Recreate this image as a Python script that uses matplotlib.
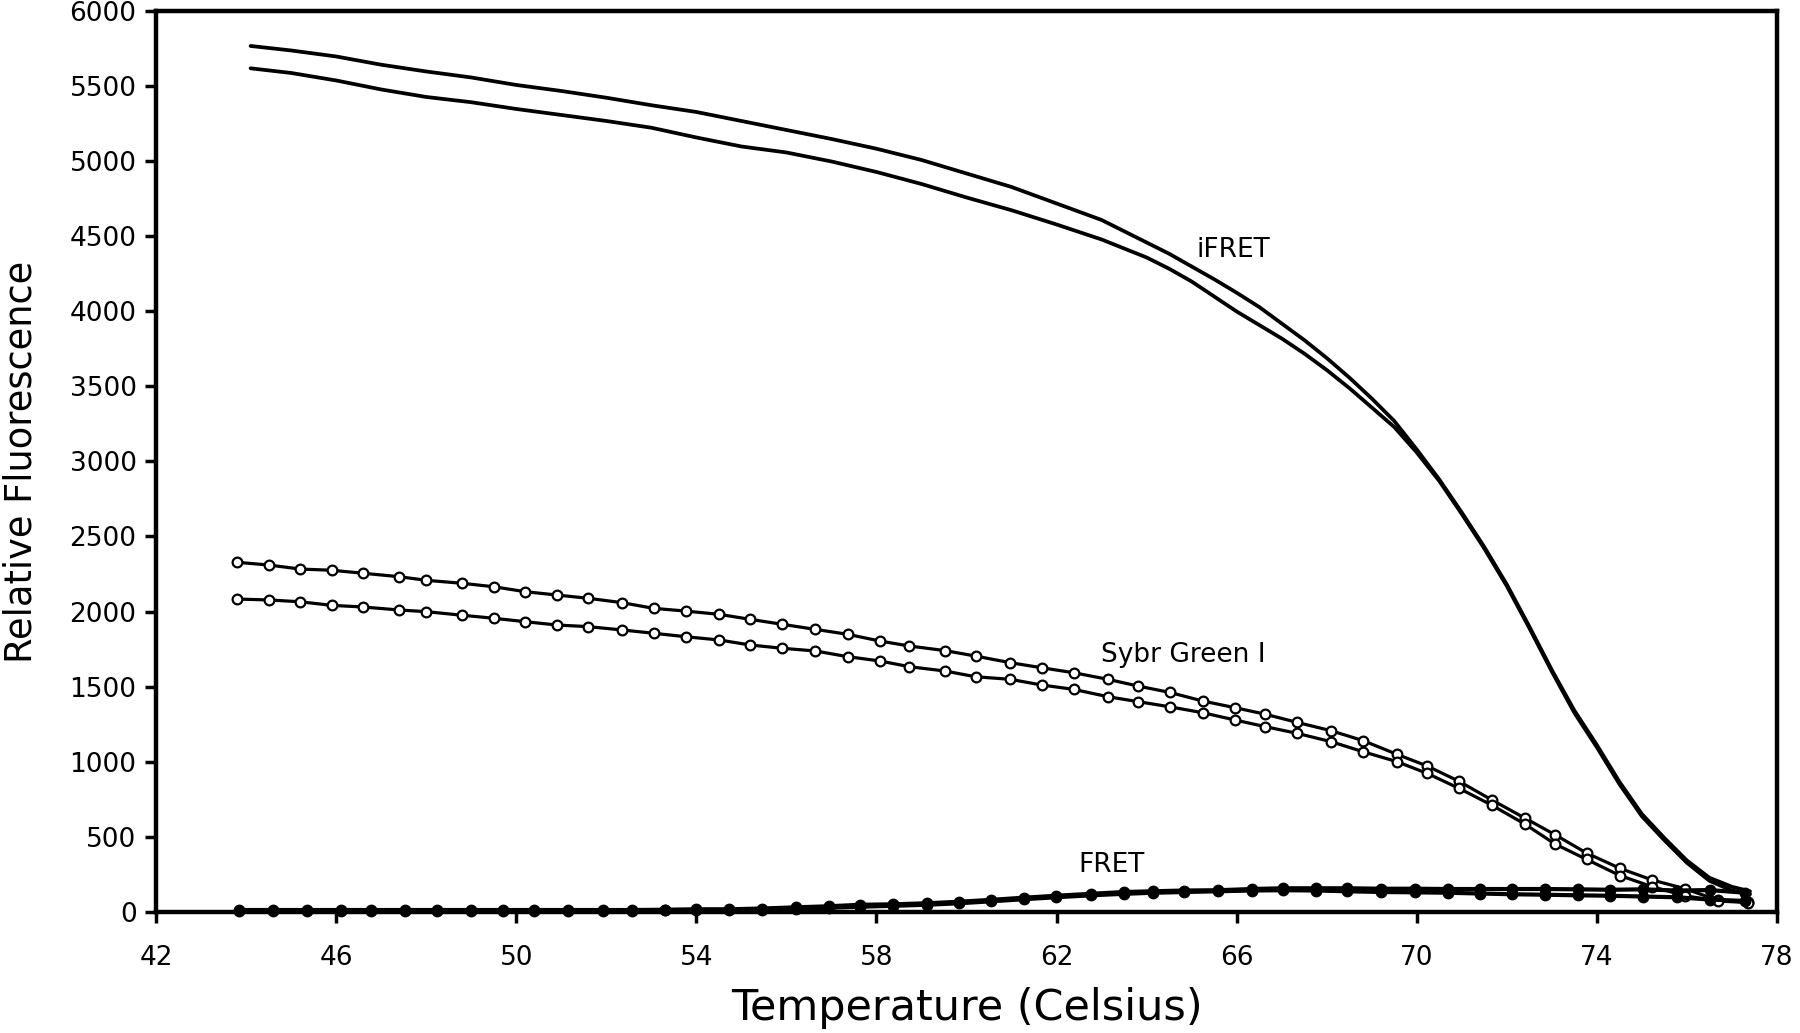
import matplotlib
matplotlib.use("Agg")
import matplotlib.pyplot as plt

# ---------------- data ----------------
ifret_temp = [44.1, 45, 46, 47, 48, 49, 50, 51, 52, 53, 54, 55, 56, 57, 58, 59, 60,
              61, 62, 63, 64, 64.5, 65, 65.5, 66, 66.5, 67, 67.5, 68, 68.5, 69, 69.5,
              70, 70.5, 71, 71.5, 72, 72.5, 73, 73.5, 74, 74.5, 75, 75.5, 76, 76.5,
              77, 77.4]
ifret_a = [5770, 5740, 5700, 5645, 5600, 5560, 5510, 5470, 5425, 5375, 5330, 5270,
           5210, 5150, 5085, 5010, 4920, 4830, 4720, 4610, 4460, 4385, 4300, 4215,
           4125, 4030, 3920, 3810, 3690, 3560, 3420, 3270, 3080, 2880, 2660, 2430,
           2180, 1900, 1610, 1340, 1110, 865, 650, 490, 340, 225, 165, 135]
ifret_b = [5621, 5590, 5540, 5480, 5430, 5395, 5350, 5310, 5270, 5225, 5160, 5100,
           5060, 5000, 4930, 4850, 4760, 4675, 4580, 4480, 4360, 4285, 4200, 4100,
           4000, 3910, 3820, 3720, 3610, 3490, 3360, 3230, 3060, 2870, 2650, 2420,
           2170, 1890, 1600, 1325, 1095, 850, 635, 475, 325, 205, 140, 115]

sybr_temp = [43.8, 44.5, 45.2, 45.9, 46.6, 47.4, 48.0, 48.8, 49.5, 50.2, 50.9, 51.6,
             52.35, 53.05, 53.76, 54.51, 55.19, 55.9, 56.64, 57.36, 58.08, 58.73,
             59.53, 60.2, 60.97, 61.67, 62.38, 63.14, 63.81, 64.51, 65.25, 65.96,
             66.64, 67.34, 68.1, 68.81, 69.56, 70.23, 70.94, 71.66, 72.4, 73.07,
             73.77, 74.51, 75.23, 75.96, 76.68, 77.36]
sybr_a = [2328, 2310, 2283, 2275, 2255, 2232, 2208, 2188, 2165, 2132, 2110, 2088,
          2059, 2021, 2003, 1981, 1948, 1915, 1881, 1848, 1803, 1770, 1739, 1703,
          1659, 1625, 1592, 1548, 1503, 1461, 1403, 1359, 1315, 1261, 1205, 1139,
          1048, 970, 868, 745, 623, 512, 390, 288, 210, 152, 75, 62]
sybr_b = [2083, 2077, 2065, 2041, 2030, 2010, 1999, 1975, 1955, 1932, 1910, 1899,
          1877, 1855, 1832, 1810, 1777, 1755, 1737, 1699, 1670, 1632, 1603, 1565,
          1548, 1510, 1481, 1432, 1399, 1365, 1325, 1277, 1232, 1188, 1132, 1065,
          999, 921, 821, 710, 583, 450, 348, 240, 165, 105, 70, 60]

fret_temp = [43.85, 44.6, 45.36, 46.1, 46.78, 47.53, 48.24, 48.99, 49.71, 50.4,
             51.16, 51.92, 52.56, 53.31, 53.99, 54.73, 55.45, 56.22, 56.94, 57.64,
             58.36, 59.12, 59.83, 60.55, 61.27, 61.99, 62.76, 63.5, 64.14, 64.84,
             65.59, 66.34, 67.04, 67.77, 68.46, 69.21, 69.95, 70.69, 71.4, 72.12,
             72.84, 73.58, 74.3, 75.03, 75.77, 76.51, 77.3]
fret_a = [10, 10, 10, 10, 10, 10, 10, 10, 10, 10, 10, 10, 10, 12, 15, 15, 20, 28,
          35, 45, 48, 55, 65, 78, 92, 105, 118, 130, 135, 140, 142, 150, 155, 155,
          155, 152, 152, 150, 150, 150, 150, 148, 145, 148, 140, 143, 125]
fret_b = [5, 5, 5, 5, 5, 5, 5, 5, 5, 5, 5, 5, 5, 8, 10, 10, 12, 18, 25, 32, 38,
          45, 55, 68, 82, 95, 108, 118, 125, 130, 135, 140, 142, 140, 135, 130,
          128, 125, 120, 115, 112, 108, 105, 100, 95, 80, 70]

x_ticks = [42, 46, 50, 54, 58, 62, 66, 70, 74, 78]
y_ticks = [0, 500, 1000, 1500, 2000, 2500, 3000, 3500, 4000, 4500, 5000, 5500, 6000]

labels = {"iFRET": (65.93, 4410), "Sybr Green I": (64.82, 1710), "FRET": (63.22, 310)}

# ---------------- figure ----------------
plt.rcParams['font.family'] = ['DejaVu Sans']
fig = plt.figure(figsize=(18, 10.33), dpi=100)
ax = fig.add_axes([0.0867, 0.1176, 0.9005, 0.8713])

for ys in (ifret_a, ifret_b):
    ax.plot(ifret_temp, ys, color='black', lw=2.7, solid_capstyle='round',
            solid_joinstyle='round', zorder=3)

for ys in (sybr_a, sybr_b):
    ax.plot(sybr_temp, ys, color='black', lw=2.3, marker='o', markersize=7,
            markerfacecolor='white', markeredgecolor='black', markeredgewidth=1.6,
            zorder=4, clip_on=False)

for ys in (fret_a, fret_b):
    ax.plot(fret_temp, ys, color='black', lw=3.0, marker='o', markersize=7.5,
            markerfacecolor='black', markeredgecolor='black', zorder=5, clip_on=False)

for txt, (tx, ty) in labels.items():
    ax.text(tx, ty, txt, fontsize=19, ha='center', va='center', color='black')

ax.set_xlim(42, 78)
ax.set_ylim(0, 6000)
ax.set_xticks(x_ticks)
ax.set_yticks(y_ticks)
ax.tick_params(axis='both', which='major', direction='out', length=8, width=2.5,
               labelsize=19, colors='black')
ax.tick_params(axis='x', pad=16)
ax.tick_params(axis='y', pad=6)
for s in ax.spines.values():
    s.set_linewidth(3.2)
    s.set_color('black')

ax.set_xlabel("Temperature (Celsius)", fontsize=31, va='center')
ax.set_ylabel("Relative Fluorescence", fontsize=26.5, va='center')
ax.xaxis.set_label_coords(0.5, -0.107)
ax.yaxis.set_label_coords(-0.0833, 0.5)

fig.savefig("out.png", dpi=100, facecolor='white')
